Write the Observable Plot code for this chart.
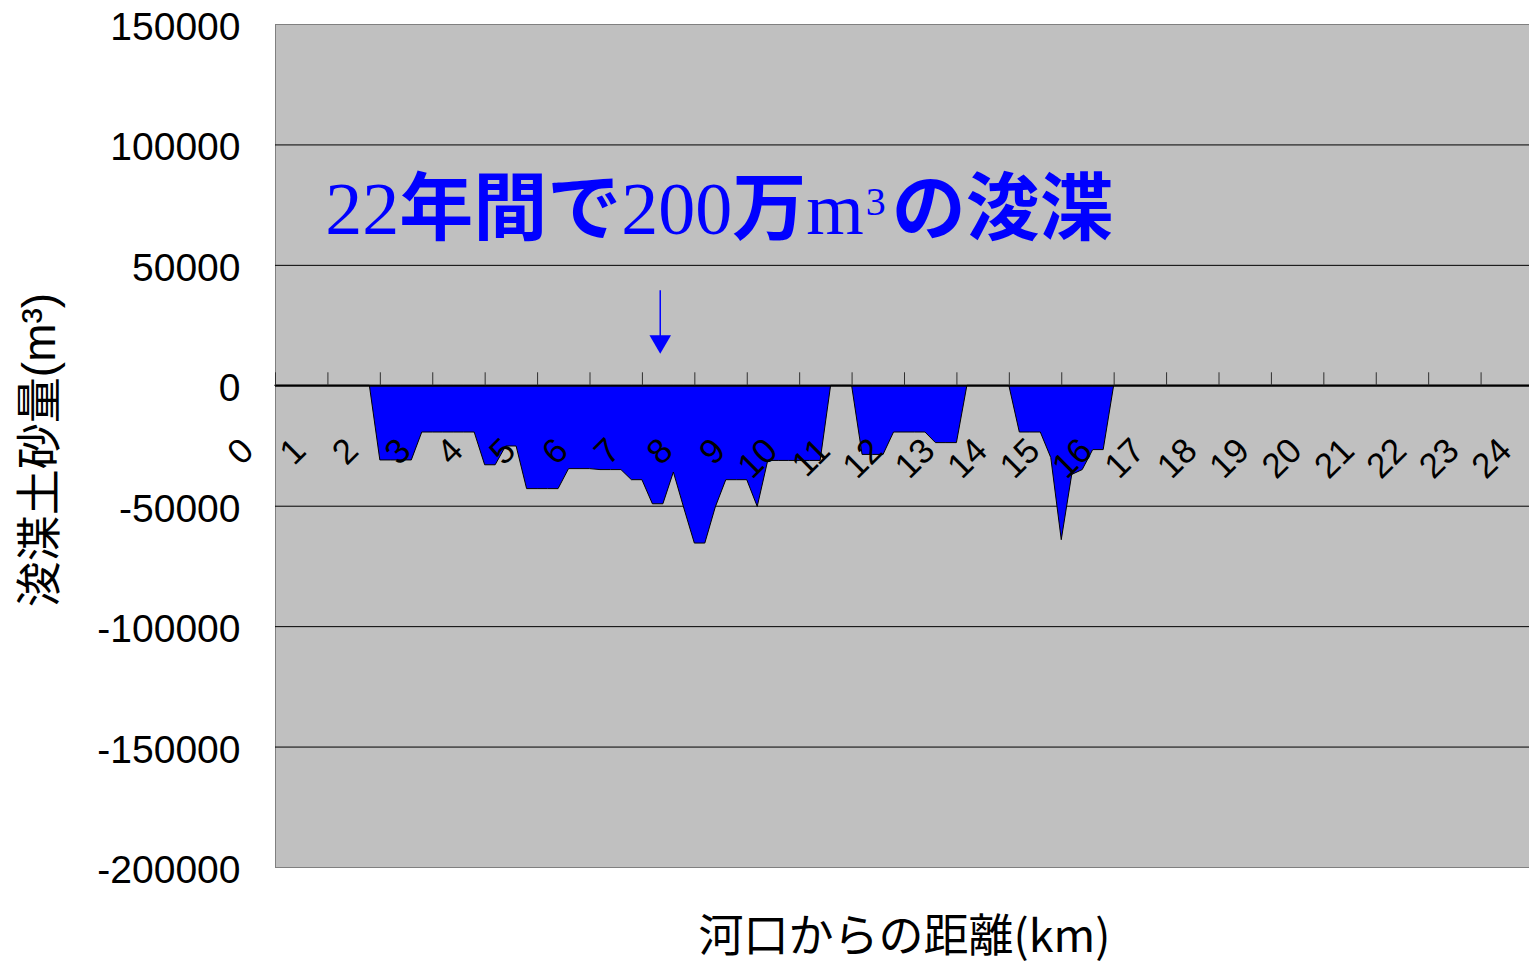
<!DOCTYPE html>
<html>
<head>
<meta charset="utf-8">
<script src="https://cdn.jsdelivr.net/npm/d3@7"></script>
<script src="https://cdn.jsdelivr.net/npm/@observablehq/plot@0.6"></script>
<style>
  html, body { margin: 0; padding: 0; background: #ffffff; overflow: hidden; }
  #chart { width: 1533px; height: 964px; overflow: hidden; }
  #chart svg { max-width: none !important; height: 964px !important; display: block; }
</style>
</head>
<body>
<div id="chart"></div>
<script>
// Dredged sediment volume (m³) by distance from the river mouth (km), 200 m sections
const distanceKm = [
  0, 1.8, 2.0, 2.2, 2.4, 2.6, 2.8, 3.0, 3.2, 3.4, 3.6, 3.8,
  4.0, 4.2, 4.4, 4.6, 4.8, 5.0, 5.2, 5.4, 5.6, 5.8, 6.0,
  6.2, 6.4, 6.6, 6.8, 7.0, 7.2, 7.4, 7.6, 7.8, 8.0, 8.2,
  8.4, 8.6, 8.8, 9.0, 9.2, 9.4, 9.6, 9.8, 10.0, 10.2, 10.4,
  10.6, 10.8, 11.0, 11.2, 11.4, 11.6, 11.8, 12.0, 12.2, 12.4,
  12.6, 12.8, 13.0, 13.2, 14.0, 14.2, 14.4, 14.6, 14.8,
  15.0, 15.2, 15.4, 15.6, 15.8, 16.0, 24
];
const dredgedVolume = [
  0, 0, -31000, -31000, -31000, -31000, -19400, -19400, -19400, -19400, -19400, -19400,
  -33000, -33000, -25200, -25200, -42900, -42900, -42900, -42900, -34600, -34600, -34600,
  -35000, -35000, -35000, -39200, -39200, -49200, -49200, -36000, -51000, -65500, -65500,
  -50500, -39200, -39200, -39200, -50300, -31200, -31200, -31200, -31200, -31200, -31200,
  0, 0, 0, -28700, -28700, -28700, -19400, -19400, -19400, -19400,
  -23800, -23800, -23800, 0, 0, -19400, -19400, -19400, -30000,
  -64100, -37000, -35000, -26700, -26700, 0, 0
];

const xTickLabels = [0, 1, 2, 3, 4, 5, 6, 7, 8, 9, 10, 11, 12, 13, 14, 15, 16, 17, 18, 19, 20, 21, 22, 23, 24];
const yTickValues = [150000, 100000, 50000, 0, -50000, -100000, -150000, -200000];

const yTitle = "浚渫土砂量(m³)";
const xTitle = "河口からの距離(km)";

// Headline annotation, split by typeface (serif numerals, bold gothic kana/kanji, raised exponent)
const headlineParts = [
  {text: "22", kind: "serif"},
  {text: "年間で", kind: "gothic"},
  {text: "200", kind: "serif"},
  {text: "万", kind: "gothic"},
  {text: "m", kind: "serif"},
  {text: "3", kind: "sup"},
  {text: "の浚渫", kind: "gothic"}
];
const headline = headlineParts.map(p => p.text).join("");
const headlineAt = {km: 0.95, volume: 63000};
const arrowAt = {km: 7.34, from: 39500, to: 18450};

const rows = distanceKm.map((km, i) => ({km, volume: dredgedVolume[i]}));

const blue = "#0000ff";
const latin = "'Liberation Sans', Arial, sans-serif";
const cjk = "'Noto Sans CJK JP', sans-serif";
const serif = "'Liberation Serif', 'Times New Roman', serif";

const plot = Plot.plot({
  width: 1533,
  height: 964,
  marginLeft: 275,
  marginRight: 0,
  marginTop: 24,
  marginBottom: 97,
  style: {fontFamily: latin, background: "#ffffff", maxWidth: "none"},
  x: {domain: [0, 24], axis: null},
  y: {domain: [-200000, 150000], axis: null},
  marks: [
    Plot.frame({fill: "#c0c0c0", stroke: "#808080"}),
    Plot.ruleY(yTickValues.filter(v => v !== 0 && v !== 150000 && v !== -200000), {stroke: "#000000", strokeWidth: 1}),
    Plot.areaY(rows, {x: "km", y: "volume", fill: blue, stroke: "#000000", strokeWidth: 1}),
    Plot.ruleY([0], {stroke: "#000000", strokeWidth: 2}),
    Plot.ruleX(xTickLabels, {x: d => d, y1: () => 0, y2: () => 0, insetTop: -13, stroke: "#303030", strokeWidth: 1}),
    // rotated distance labels hanging just below the zero line
    Plot.text(xTickLabels, {
      x: d => d, y: () => 0, text: d => String(d),
      rotate: -45, textAnchor: "end", lineAnchor: "middle",
      dx: -28, dy: 59, fontSize: 35, fill: "#000000"
    }),
    // volume tick labels
    Plot.text(yTickValues, {
      y: d => d, text: d => String(d), frameAnchor: "left",
      textAnchor: "end", lineAnchor: "middle", dx: -35, dy: 3, fontSize: 39, fill: "#000000"
    }),
    // axis titles
    Plot.text([yTitle], {
      text: d => d, frameAnchor: "left", rotate: -90, textAnchor: "middle", lineAnchor: "middle",
      dx: -235, dy: 4, fontSize: 46, fontFamily: "'Liberation Sans', 'Noto Sans CJK JP', sans-serif", fill: "#000000"
    }),
    Plot.text([xTitle], {
      text: d => d, frameAnchor: "bottom", textAnchor: "middle", lineAnchor: "bottom",
      dy: 84, fontSize: 45, fontFamily: cjk, fill: "#000000"
    }),
    // pointer arrow
    Plot.ruleX([arrowAt], {x: "km", y1: "from", y2: "to", stroke: blue, strokeWidth: 1.5}),
    Plot.dot([arrowAt], {x: "km", y: "to", symbol: "triangle", rotate: 180, r: 8, fill: blue, stroke: "none"}),
    // headline
    Plot.text([headlineAt], {
      x: "km", y: "volume", text: () => headline, textAnchor: "start", lineAnchor: "bottom",
      fontSize: 72, fill: blue
    })
  ]
});

// Re-set the headline with mixed typefaces
d3.select(plot).selectAll("text")
  .filter(function () { return this.textContent === headline; })
  .each(function () {
    const t = d3.select(this);
    t.text(null);
    let raised = false;
    for (const p of headlineParts) {
      const s = t.append("tspan").text(p.text);
      if (p.kind === "sup") {
        s.attr("font-family", serif).attr("font-weight", "normal").attr("font-size", 40).attr("dy", -19).attr("dx", 2);
        raised = true;
        continue;
      }
      if (raised) { s.attr("dy", 19).attr("dx", 6); raised = false; }
      if (p.kind === "serif") {
        s.attr("font-family", serif).attr("font-weight", "normal").attr("font-size", 74);
      } else {
        s.attr("font-family", cjk).attr("font-weight", "bold").attr("font-size", 74);
      }
    }
  });

document.getElementById("chart").appendChild(plot);
</script>
</body>
</html>
